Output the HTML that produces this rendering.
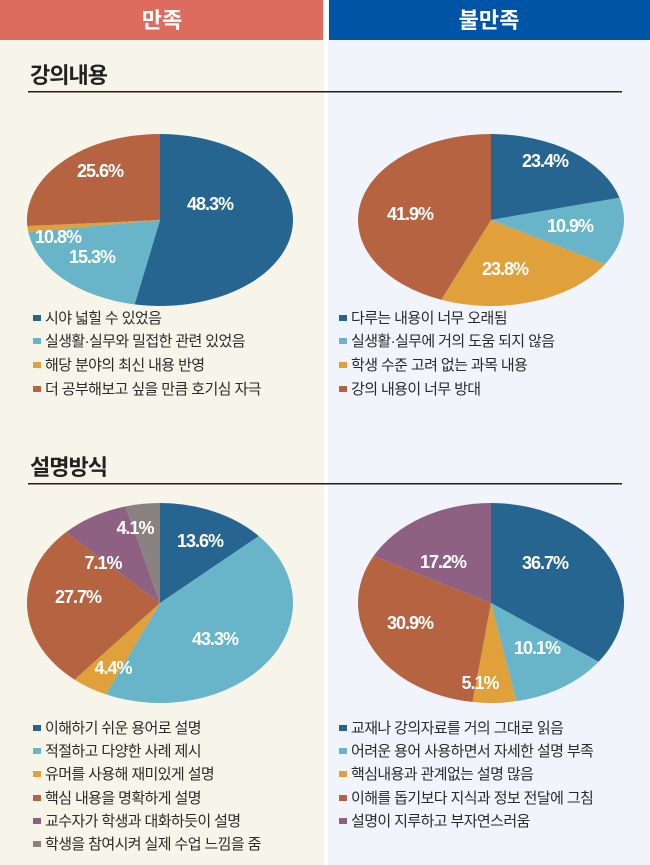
<!DOCTYPE html>
<html><head><meta charset="utf-8"><style>
html,body{margin:0;padding:0;width:650px;height:865px;overflow:hidden;background:#fff}
svg{display:block}
text{font-family:"Liberation Sans","Noto Sans CJK KR",sans-serif}
.h{font-size:22px;font-weight:bold;fill:#fff}
.t{font-size:22px;font-weight:bold;fill:#222;letter-spacing:-1px}
.l{font-size:15px;fill:#2a2a2a;letter-spacing:-0.6px}
.p{font-size:18px;font-weight:bold;fill:#fff;text-anchor:middle;letter-spacing:-1px}
</style></head><body>
<svg width="650" height="865" viewBox="0 0 650 865" xmlns="http://www.w3.org/2000/svg">
<rect x="0" y="0" width="324" height="865" fill="#f7f5ea"/>
<rect x="328" y="0" width="322" height="865" fill="#f1f4fb"/>
<rect x="0" y="0" width="323" height="40" fill="#dd6b5e"/>
<rect x="329" y="0" width="321" height="40" fill="#0054a6"/>
<text class="h" x="162" y="28" text-anchor="middle">만족</text>
<text class="h" x="489" y="28" text-anchor="middle">불만족</text>

<text class="t" x="30" y="83">강의내용</text>
<rect x="28" y="91" width="594" height="1.5" fill="#2a1a14"/>
<text class="t" x="30" y="475">설명방식</text>
<rect x="28" y="483" width="594" height="1.5" fill="#2a1a14"/>

<g id="pies"></g>

<g>
<rect x="33" y="315" width="8" height="6" fill="#26658f"/><text class="l" x="45" y="323">시야 넓힐 수 있었음</text>
<rect x="33" y="338" width="8" height="6" fill="#68b5c9"/><text class="l" x="45" y="346">실생활·실무와 밀접한 관련 있었음</text>
<rect x="33" y="362" width="8" height="6" fill="#e0a03a"/><text class="l" x="45" y="370">해당 분야의 최신 내용 반영</text>
<rect x="33" y="386" width="8" height="6" fill="#b56340"/><text class="l" x="45" y="394">더 공부해보고 싶을 만큼 호기심 자극</text>

<rect x="339" y="315" width="8" height="6" fill="#26658f"/><text class="l" x="351" y="323">다루는 내용이 너무 오래됨</text>
<rect x="339" y="338" width="8" height="6" fill="#68b5c9"/><text class="l" x="351" y="346">실생활·실무에 거의 도움 되지 않음</text>
<rect x="339" y="362" width="8" height="6" fill="#e0a03a"/><text class="l" x="351" y="370">학생 수준 고려 없는 과목 내용</text>
<rect x="339" y="386" width="8" height="6" fill="#b56340"/><text class="l" x="351" y="394">강의 내용이 너무 방대</text>

<rect x="33" y="725" width="8" height="6" fill="#26658f"/><text class="l" x="45" y="733">이해하기 쉬운 용어로 설명</text>
<rect x="33" y="748" width="8" height="6" fill="#68b5c9"/><text class="l" x="45" y="756">적절하고 다양한 사례 제시</text>
<rect x="33" y="771" width="8" height="6" fill="#e0a03a"/><text class="l" x="45" y="779">유머를 사용해 재미있게 설명</text>
<rect x="33" y="795" width="8" height="6" fill="#b56340"/><text class="l" x="45" y="803">핵심 내용을 명확하게 설명</text>
<rect x="33" y="818" width="8" height="6" fill="#8e6183"/><text class="l" x="45" y="826">교수자가 학생과 대화하듯이 설명</text>
<rect x="33" y="841" width="8" height="6" fill="#8a8280"/><text class="l" x="45" y="849">학생을 참여시켜 실제 수업 느낌을 줌</text>

<rect x="339" y="725" width="8" height="6" fill="#26658f"/><text class="l" x="351" y="733">교재나 강의자료를 거의 그대로 읽음</text>
<rect x="339" y="748" width="8" height="6" fill="#68b5c9"/><text class="l" x="351" y="756">어려운 용어 사용하면서 자세한 설명 부족</text>
<rect x="339" y="771" width="8" height="6" fill="#e0a03a"/><text class="l" x="351" y="779">핵심내용과 관계없는 설명 많음</text>
<rect x="339" y="795" width="8" height="6" fill="#b56340"/><text class="l" x="351" y="803">이해를 돕기보다 지식과 정보 전달에 그침</text>
<rect x="339" y="818" width="8" height="6" fill="#8e6183"/><text class="l" x="351" y="826">설명이 지루하고 부자연스러움</text>
</g>
</svg>
<script>
(function(){
var NS="http://www.w3.org/2000/svg",g=document.getElementById("pies");
function pie(cx,cy,rx,ry,sl){var a=0;sl.forEach(function(s){var b=s[0];
var x1=cx+rx*Math.sin(a*Math.PI/180),y1=cy-ry*Math.cos(a*Math.PI/180),
x2=cx+rx*Math.sin(b*Math.PI/180),y2=cy-ry*Math.cos(b*Math.PI/180);
var p=document.createElementNS(NS,"path");
p.setAttribute("d","M"+cx+","+cy+"L"+x1+","+y1+"A"+rx+","+ry+" 0 "+((b-a)>180?1:0)+" 1 "+x2+","+y2+"Z");
p.setAttribute("fill",s[1]);g.appendChild(p);a=b;});}
var B="#26658f",L="#68b5c9",O="#e0a03a",R="#b56340",P="#8e6183",G="#8a8280";
pie(160,220,133,86,[[191,B],[262,L],[266,O],[360,R]]);
pie(491,220,133,86,[[75,B],[121,L],[202,O],[360,R]]);
pie(160,603,133,100,[[48,B],[204,L],[220,O],[315,R],[345,P],[360,G]]);
pie(491,603,133,100,[[126,B],[169,L],[188,O],[298,R],[360,P]]);
var labs=[[210,210,"48.3%"],[100,177,"25.6%"],[58,243,"10.8%"],[92,263,"15.3%"],
[545,167,"23.4%"],[570,232,"10.9%"],[505,275,"23.8%"],[410,220,"41.9%"],
[200,547,"13.6%"],[135,534,"4.1%"],[103,569,"7.1%"],[78,603,"27.7%"],[215,645,"43.3%"],[113,674,"4.4%"],
[545,569,"36.7%"],[443,568,"17.2%"],[410,629,"30.9%"],[537,654,"10.1%"],[480,689,"5.1%"]];
labs.forEach(function(l){var t=document.createElementNS(NS,"text");t.setAttribute("x",l[0]);t.setAttribute("y",l[1]);t.setAttribute("class","p");t.textContent=l[2];g.appendChild(t);});
})();
</script>
</body></html>
